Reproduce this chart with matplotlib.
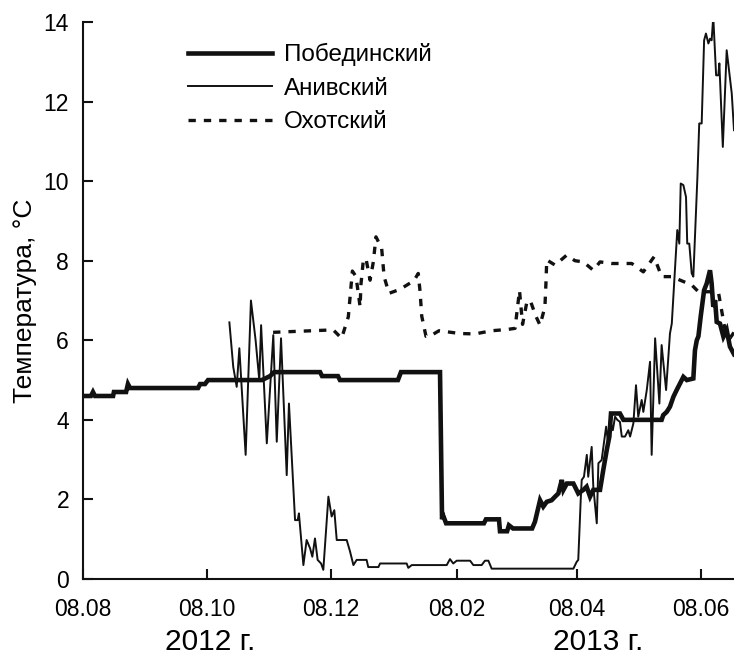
import numpy as np
import matplotlib
matplotlib.use("Agg")
import matplotlib.pyplot as plt
import matplotlib.dates as mdates

plt.rcParams['font.family'] = ['Liberation Sans', 'DejaVu Sans']

# ---- data: days since 2012-08-08, temperature (°C) ----
start_date = "2012-08-08"

pob_days = [0, 3.9, 4.9, 5.9, 14.8, 15.2, 21.2, 22.1, 23.1, 56.6, 57.6, 60.0, 61.5, 88.0, 92.0, 94.0,
            116.6, 117.6, 125.4, 126.4, 154.9, 156.4, 175.6, 176.6, 177.1, 178.6, 197.2, 198.2, 204.6,
            205.1, 208.6, 209.5, 211.5, 220.9, 222.3, 224.8, 226.4, 228.1, 230.5, 232.2, 233.8, 235.5,
            236.3, 238.0, 241.2, 243.6, 246.1, 247.7, 249.4, 251.0, 254.3, 255.9, 257.6, 258.9, 259.7,
            264.1, 265.8, 284.6, 285.4, 287.1, 288.7, 290.4, 292.0, 293.7, 295.3, 297.0, 300.2, 301.0,
            301.9, 302.7, 303.8, 305.5, 306.8, 308.4, 309.2, 310.0, 310.9, 311.7, 313.3, 315.0, 316.6,
            318.2, 320.2]
pob_vals = [4.6, 4.6, 4.7, 4.6, 4.6, 4.7, 4.7, 4.9, 4.8, 4.8, 4.9, 4.9, 5.0, 5.0, 5.1, 5.2,
            5.2, 5.1, 5.1, 5.0, 5.0, 5.2, 5.2, 1.5, 1.6, 1.4, 1.4, 1.5, 1.5,
            1.2, 1.2, 1.35, 1.27, 1.27, 1.44, 1.98, 1.82, 1.94, 1.98, 2.07, 2.15, 2.49,
            2.24, 2.4, 2.4, 2.15, 2.24, 2.32, 2.07, 2.24, 2.24, 2.74, 3.24, 3.58, 4.16,
            4.16, 4.0, 4.0, 4.12, 4.2, 4.33, 4.58, 4.75, 4.92, 5.08, 5.0, 5.04, 5.75,
            6.0, 6.1, 6.59, 7.26, 7.43, 7.76, 7.43, 6.84, 7.01, 6.46, 6.42, 6.09, 6.26,
            5.84, 5.65]

ani_days = [72.0, 73.9, 75.6, 76.9, 80.0, 82.6, 84.9, 86.7, 87.6, 90.4, 93.6, 95.3, 97.4, 100.2,
            101.3, 104.3, 105.6, 106.2, 108.4, 110.0, 111.7, 112.8, 114.1, 115.4, 117.1, 118.2, 120.7,
            122.3, 123.6, 124.8, 129.7, 131.3, 133.0, 134.6, 139.5, 140.3, 145.3, 146.1, 159.2, 160.0,
            161.7, 178.9, 180.5, 182.1, 183.8, 190.4, 192.0, 196.1, 197.7, 199.4, 201.0, 241.2, 242.8,
            243.6, 244.8, 245.3, 246.4, 247.8, 248.5, 250.2, 251.0, 252.7, 253.5, 255.1, 257.3, 258.1,
            259.2, 260.6, 261.7, 262.8, 264.1, 265.0, 266.6, 268.2, 269.1, 270.7, 272.0, 273.1, 274.8,
            275.6, 277.3, 278.9, 279.7, 281.4, 283.5, 284.6, 286.8, 288.7, 289.6, 292.3, 293.3, 294.0,
            295.3, 296.6, 297.2, 298.2, 299.4, 300.2, 302.2, 303.1, 304.3, 305.5, 306.4, 307.6, 308.4,
            309.2, 310.0, 311.4, 312.5, 313.0, 314.7, 316.6, 319.1, 320.2]
ani_vals = [6.45, 5.33, 4.83, 5.8, 3.12, 7.0, 6.0, 5.0, 6.38, 3.41, 6.13, 3.45, 6.05, 2.61,
            4.41, 1.48, 1.48, 1.65, 0.35, 0.98, 0.77, 0.56, 1.02, 0.48, 0.39, 0.23, 2.07,
            1.57, 1.73, 0.98, 0.98, 0.7, 0.35, 0.48, 0.48, 0.3, 0.3, 0.39, 0.39, 0.28,
            0.35, 0.35, 0.5, 0.39, 0.46, 0.46, 0.35, 0.35, 0.46, 0.46, 0.26, 0.26, 0.43,
            0.48, 1.99, 2.49, 2.57, 3.12, 2.57, 3.32, 2.32, 1.4, 2.91, 2.99, 3.83, 3.49,
            4.0, 3.74, 4.08, 4.0, 3.95, 3.58, 3.58, 3.74, 3.58, 3.91, 4.87, 4.08, 4.5,
            4.2, 4.75, 5.46, 3.12, 6.05, 4.41, 5.88, 4.75, 6.17, 6.42, 8.77, 8.43, 9.94,
            9.9, 9.6, 8.43, 8.43, 7.68, 7.6, 10.1, 11.45, 11.45, 13.54, 13.71, 13.46, 13.58,
            13.54, 14.13, 12.66, 12.66, 12.96, 10.86, 13.29, 12.2, 11.28]

okh_days = [93.5, 122.3, 123.1, 127.2, 130.5, 132.5, 134.3, 136.3, 136.7, 137.9, 139.2, 141.2, 142.8,
            144.1, 146.9, 148.1, 150.5, 155.9, 160.0, 162.8, 164.9, 165.8, 166.6, 168.7, 171.2, 175.1,
            185.4, 192.8, 201.0, 208.4, 212.5, 214.7, 216.2, 218.2, 219.9, 222.8, 224.8, 227.2, 227.7,
            228.1, 232.2, 237.9, 242.0, 246.1, 251.0, 254.3, 260.1, 269.9, 275.6, 280.9, 284.6, 289.5,
            299.4, 302.7, 312.5, 315.8, 318.2, 320.2]
okh_vals = [6.2, 6.26, 6.26, 6.05, 6.59, 7.74, 7.6, 6.84, 7.4, 8.02, 8.05, 7.51, 7.97,
            8.6, 8.31, 7.6, 7.18, 7.28, 7.41, 7.5, 7.68, 7.22, 6.61, 6.1, 6.12, 6.24,
            6.17, 6.16, 6.24, 6.27, 6.3, 7.25, 6.4, 6.93, 7.01, 6.6, 6.38, 6.84, 7.43,
            8.02, 7.89, 8.14, 8.0, 7.97, 7.76, 7.97, 7.93, 7.93, 7.72, 8.1, 7.6, 7.6,
            7.39, 7.22, 7.22, 6.26, 6.05, 6.2]

series_names = ["Побединский", "Анивский", "Охотский"]
tick_dates = ["2012-08-08", "2012-10-08", "2012-12-08", "2013-02-08", "2013-04-08", "2013-06-08"]
tick_labels = ["08.08", "08.10", "08.12", "08.02", "08.04", "08.06"]
year_labels = ["2012 г.", "2013 г."]
x_end_days = 320.2


def to_dates(days):
    d = np.asarray(days, dtype=float)
    return np.datetime64(start_date) + np.round(d * 1440).astype('timedelta64[m]')


W, H = 734, 658
fig = plt.figure(figsize=(W / 100, H / 100), dpi=100)
ax = fig.add_axes([83 / W, (H - 579) / H, (W - 83) / W, (579 - 22) / H])

col = '#111111'
ax.plot(to_dates(pob_days), pob_vals, color=col, lw=3.3, solid_joinstyle='miter',
        label=series_names[0], zorder=3)
ax.plot(to_dates(ani_days), ani_vals, color=col, lw=1.4, label=series_names[1], zorder=4)
ax.plot(to_dates(okh_days), okh_vals, color=col, lw=2.4, linestyle=(0, (2.2, 2.4)),
        label=series_names[2], zorder=2)

ax.set_xlim(to_dates([0])[0], to_dates([x_end_days])[0])
ax.set_ylim(0, 14)
ax.set_yticks([0, 2, 4, 6, 8, 10, 12, 14])
ax.set_xticks([np.datetime64(d) for d in tick_dates])
ax.set_xticklabels(tick_labels)

for s in ['top', 'right']:
    ax.spines[s].set_visible(False)
for s in ['left', 'bottom']:
    ax.spines[s].set_linewidth(1.5)
    ax.spines[s].set_color(col)
ax.tick_params(direction='in', length=7, width=1.5, labelsize=16.5, color=col)
ax.tick_params(axis='x', pad=14)
ax.tick_params(axis='y', pad=10)
ax.set_ylabel("Температура, °C", fontsize=19, labelpad=5)

leg = ax.legend(loc='upper left', bbox_to_anchor=(188 / W, 1 - 43 / H),
                bbox_transform=fig.transFigure, frameon=False, fontsize=17.5,
                handlelength=3.45, handletextpad=0.5, labelspacing=0.47,
                borderpad=0, borderaxespad=0)

fig.text(210 / W, 1 - 642 / H, year_labels[0], fontsize=21.5, ha='center', va='center')
fig.text(598 / W, 1 - 642 / H, year_labels[1], fontsize=21.5, ha='center', va='center')

fig.savefig("out.png", dpi=100)
